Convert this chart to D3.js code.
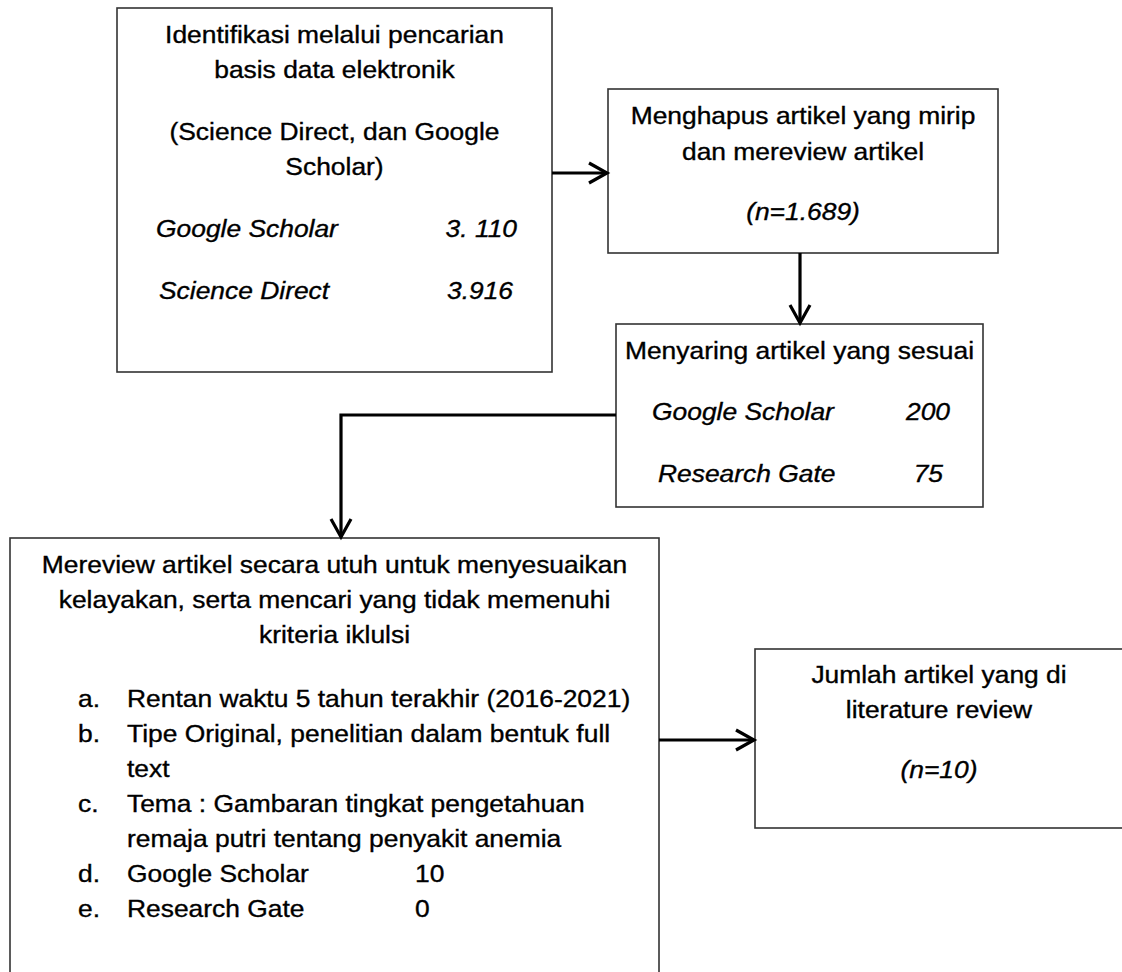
<!DOCTYPE html>
<html>
<head>
<meta charset="utf-8">
<script src="https://cdn.jsdelivr.net/npm/d3@7"></script>
<style>
  body { margin: 0; background: #fff; }
  svg { display: block; }
</style>
</head>
<body>
<div id="chart"></div>
<script>
// Text and counts of the flow diagram
var judulIdentifikasi = ["Identifikasi melalui pencarian", "basis data elektronik", "(Science Direct, dan Google", "Scholar)"];
var sumberAwal = ["Google Scholar", "Science Direct"];
var jumlahAwal = ["3. 110", "3.916"];

var judulHapus = ["Menghapus artikel yang mirip", "dan mereview artikel"];
var nHapus = "(n=1.689)";

var judulSaring = "Menyaring artikel yang sesuai";
var sumberSaring = ["Google Scholar", "Research Gate"];
var jumlahSaring = ["200", "75"];

var judulReview = ["Mereview artikel secara utuh untuk menyesuaikan", "kelayakan, serta mencari yang tidak memenuhi", "kriteria iklulsi"];
var hurufKriteria = ["a.", "b.", "", "c.", "", "d.", "e."];
var isiKriteria = ["Rentan waktu 5 tahun terakhir (2016-2021)", "Tipe Original, penelitian dalam bentuk full", "text",
                   "Tema : Gambaran tingkat pengetahuan", "remaja putri tentang penyakit anemia", "Google Scholar", "Research Gate"];
var angkaKriteria = ["", "", "", "", "", "10", "0"];

var judulAkhir = ["Jumlah artikel yang di", "literature review"];
var nAkhir = "(n=10)";

var width = 1122, height = 972;
var sx = 1.1;          // picture is a little stretched sideways
var fontSize = 24;

var svg = d3.select("#chart")
  .append("svg")
    .attr("width", width)
    .attr("height", height)
    .style("font-family", "'Liberation Sans', Arial, sans-serif");

// box layout
var boxes = {
  ident:  { x0: 117, y0: 8,   x1: 552,  y1: 372 },
  hapus:  { x0: 608, y0: 89,  x1: 998,  y1: 253 },
  saring: { x0: 616, y0: 324, x1: 983,  y1: 507 },
  review: { x0: 10,  y0: 538, x1: 659,  y1: 990 },
  akhir:  { x0: 755, y0: 649, x1: 1135, y1: 828 }
};

Object.keys(boxes).forEach(function (k) {
  var b = boxes[k];
  svg.append("rect")
    .attr("x", b.x0)
    .attr("y", b.y0)
    .attr("width", b.x1 - b.x0)
    .attr("height", b.y1 - b.y0)
    .style("fill", "none")
    .style("stroke", "#333")
    .style("stroke-width", 1.6);
});

function label(x, y, str, anchor, italic) {
  svg.append("text")
    .attr("transform", "translate(" + x + "," + y + ") scale(" + sx + ",1)")
    .attr("text-anchor", anchor || "middle")
    .style("font-size", fontSize + "px")
    .style("font-style", italic ? "italic" : "normal")
    .style("fill", "#000")
    .style("stroke", "#000")
    .style("stroke-width", 0.35)
    .text(str);
}

function cx(b) { return (b.x0 + b.x1) / 2; }

// box 1
var lineY1 = [43, 78, 140, 175];
judulIdentifikasi.forEach(function (t, i) { label(cx(boxes.ident), lineY1[i], t); });
var rowY1 = [237, 299];
sumberAwal.forEach(function (t, i) {
  label(156 + i * 3, rowY1[i], t, "start", true);
  label(517 - i * 4, rowY1[i], jumlahAwal[i], "end", true);
});

// box 2
judulHapus.forEach(function (t, i) { label(cx(boxes.hapus), 124 + i * 36, t); });
label(cx(boxes.hapus), 220, nHapus, "middle", true);

// box 3
label(cx(boxes.saring), 359, judulSaring);
sumberSaring.forEach(function (t, i) {
  label(652 + i * 6, 420 + i * 62, t, "start", true);
  label(950 - i * 7, 420 + i * 62, jumlahSaring[i], "end", true);
});

// box 4
judulReview.forEach(function (t, i) { label(cx(boxes.review), 573 + i * 35, t); });
isiKriteria.forEach(function (t, i) {
  var y = 707 + i * 35;
  if (hurufKriteria[i]) label(78, y, hurufKriteria[i], "start");
  label(127, y, t, "start");
  if (angkaKriteria[i]) label(415, y, angkaKriteria[i], "start");
});

// box 5
judulAkhir.forEach(function (t, i) { label(cx(boxes.akhir) - 6, 683 + i * 35, t); });
label(cx(boxes.akhir) - 6, 778, nAkhir, "middle", true);

// connectors
var line = d3.line();
function arrow(pts) {
  svg.append("path")
    .attr("d", line(pts))
    .style("fill", "none")
    .style("stroke", "#000")
    .style("stroke-width", 3.2);
  var a = pts[pts.length - 2], b = pts[pts.length - 1];
  var ang = Math.atan2(b[1] - a[1], b[0] - a[0]);
  var len = 18, half = 10;
  var ux = Math.cos(ang), uy = Math.sin(ang);
  var p1 = [b[0] - ux * len - uy * half, b[1] - uy * len + ux * half];
  var p2 = [b[0] - ux * len + uy * half, b[1] - uy * len - ux * half];
  svg.append("path")
    .attr("d", line([p1, b, p2]))
    .style("fill", "none")
    .style("stroke", "#000")
    .style("stroke-width", 3.2);
}

arrow([[boxes.ident.x1, 173], [boxes.hapus.x0 - 1, 173]]);
arrow([[800, boxes.hapus.y1], [800, boxes.saring.y0 - 1]]);
arrow([[boxes.saring.x0, 415], [341, 415], [341, boxes.review.y0 - 1]]);
arrow([[boxes.review.x1, 740], [boxes.akhir.x0 - 1, 740]]);
</script>
</body>
</html>
